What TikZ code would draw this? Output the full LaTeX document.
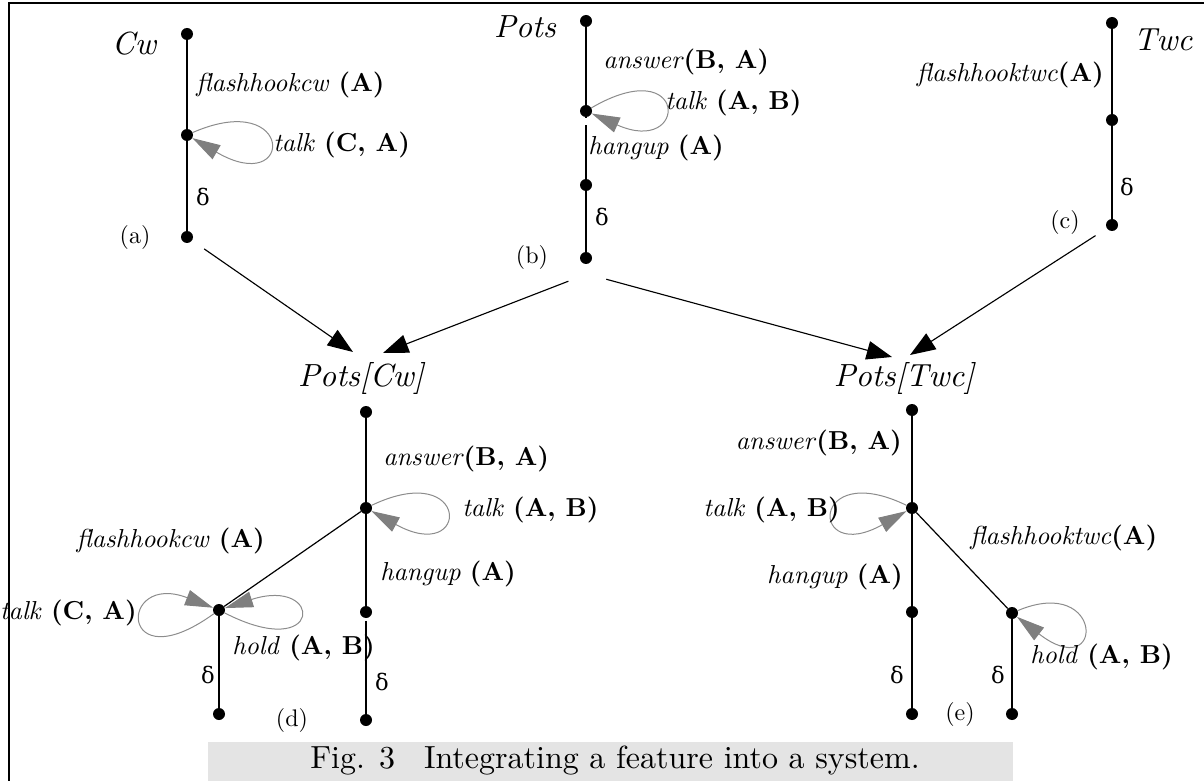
\documentclass[tikz,border=0pt]{standalone}
\usepackage{fontspec}
\setmainfont{lmroman10-regular.otf}[ItalicFont=lmroman10-italic.otf, BoldFont=lmroman10-bold.otf, BoldItalicFont=lmroman10-bolditalic.otf]
\newfontfamily\grk{DejaVu Serif}
\usetikzlibrary{arrows.meta}
\newcommand{\bp}[1]{\textup{\bfseries #1}}
\definecolor{lgray}{HTML}{8C8C8C}
\definecolor{agray}{HTML}{7F7F7F}
\definecolor{capbg}{HTML}{E4E4E4}
\begin{document}
\begin{tikzpicture}[x=0.75pt,y=-0.75pt,
 dot/.style={circle,fill=black,inner sep=0pt,minimum size=9pt},
 trunk/.style={line width=1.9pt},
 branch/.style={line width=0.9pt},
 lbl/.style={font=\fontsize{19.5}{22}\selectfont\itshape,inner sep=0pt},
 ttl/.style={font=\fontsize{24}{27}\selectfont\itshape,inner sep=0pt},
 tag/.style={font=\fontsize{18}{20}\selectfont,inner sep=0pt},
 dlt/.style={font=\grk\fontsize{17}{19}\selectfont,inner sep=0pt},
 captxt/.style={font=\fontsize{24}{28}\selectfont,inner sep=0pt},
 selfloop/.style={draw=lgray,line width=0.75pt,-{Triangle[length=21pt,width=12pt,color=agray]}},
 flow/.style={line width=0.85pt,-{Triangle[length=19pt,width=14pt]}},
]
\useasboundingbox (0,0) rectangle (1204,781);
% frame
\draw[line width=1.5pt] (9,781) -- (9,3) -- (1204,3);
% caption
\fill[capbg] (208,742) rectangle (1013,781);
\node[captxt] (caption) at (615,761) {Fig. 3\hspace{0.9em}Integrating a feature into a system.};

% ---------- (a) Cw ----------
\node[dot] (a1) at (187,34) {};
\node[dot] (a2) at (187,135) {};
\node[dot] (a3) at (187,237) {};
\draw[trunk] (a1) -- (a2);
\draw[trunk] (a2) -- (a3);
\draw[selfloop] (a2) .. controls +(108,-47) and +(108,63) .. (a2);
\node[ttl] (tCw) at (134,44) {Cw};
\node[lbl,anchor=west] (la1) at (196,85) {flashhookcw \bp{(A)}};
\node[lbl,anchor=west] (la2) at (273,145) {talk \bp{(C, A)}};
\node[dlt] (da) at (203,197) {δ};
\node[tag] (taga) at (135,238) {(a)};

% ---------- (b) Pots ----------
\node[dot] (b1) at (586,21) {};
\node[dot] (b2) at (586,111) {};
\node[dot] (b3) at (586,185) {};
\node[dot] (b4) at (586,258) {};
\draw[trunk] (b1) -- ([yshift=-5pt]b2.center);
\draw[trunk,shorten <=6pt] (b2) -- (b3);
\draw[trunk] (b3) -- (b4);
\draw[selfloop] (b2) .. controls +(103,-60) and +(103,46) .. (b2);
\node[ttl] (tPots) at (525,27) {Pots};
\node[lbl,anchor=west] (lb1) at (603,62) {answer\bp{(B, A)}};
\node[lbl,anchor=west] (lb2) at (665,103) {talk \bp{(A, B)}};
\node[lbl,anchor=west] (lb3) at (588,148) {hangup \bp{(A)}};
\node[dlt] (db) at (602,217) {δ};
\node[tag] (tagb) at (532,258) {(b)};

% ---------- (c) Twc ----------
\node[dot] (c1) at (1112,23) {};
\node[dot] (c2) at (1112,120) {};
\node[dot] (c3) at (1112,225) {};
\draw[trunk] (c1) -- (c2);
\draw[trunk] (c2) -- (c3);
\node[ttl] (tTwc) at (1163,40) {Twc};
\node[lbl,anchor=east] (lc1) at (1104,75) {flashhooktwc\bp{(A)}};
\node[dlt] (dc) at (1127,187) {δ};
\node[tag] (tagc) at (1065,223) {(c)};

% ---------- titles of results ----------
\node[ttl] (tPC) at (361,378) {Pots[Cw]};
\node[ttl] (tPT) at (904,378) {Pots[Twc]};
\coordinate (bsrc) at (587,274);
\coordinate (tipA) at (353,352);
\coordinate (tipB) at (383,353);
\coordinate (tipC) at (892,357);
\coordinate (tipD) at (910,355);
\draw[flow,shorten <=11pt] (a3) -- (tipA);
\draw[flow,shorten <=15pt] (bsrc) -- (tipB);
\draw[flow,shorten <=15pt] (bsrc) -- (tipC);
\draw[flow,shorten <=10pt] (c3) -- (tipD);

% ---------- (d) Pots[Cw] ----------
\node[dot] (d1) at (366,412) {};
\node[dot] (d2) at (366,508) {};
\node[dot] (d3) at (366,612) {};
\node[dot] (d4) at (366,720) {};
\node[dot] (dl1) at (219,610) {};
\node[dot] (dl2) at (219,714) {};
\draw[trunk] (d1) -- (d2);
\draw[trunk] (d2) -- (d3);
\draw[trunk,shorten <=2pt] (d3) -- (d4);
\draw[branch] (d2) -- (dl1);
\draw[trunk] (dl1) -- (dl2);
\draw[selfloop] (d2) .. controls +(105,-50) and +(105,58) .. (d2);
\draw[selfloop] (dl1) .. controls +(-101,73) and +(-101,-39) .. (dl1);
\draw[selfloop] (dl1) .. controls +(105,54) and +(105,-34) .. (dl1);
\node[lbl,anchor=west] (ld1) at (383,459) {answer\bp{(B, A)}};
\node[lbl,anchor=west] (ld2) at (462,510) {talk \bp{(A, B)}};
\node[lbl,anchor=east] (ld3) at (265,541) {flashhookcw \bp{(A)}};
\node[lbl,anchor=west] (ld4) at (380,574) {hangup \bp{(A)}};
\node[lbl,anchor=east] (ld5) at (137,613) {talk \bp{(C, A)}};
\node[lbl,anchor=west] (ld6) at (232,648) {hold \bp{(A, B)}};
\node[dlt] (dd1) at (208,675) {δ};
\node[dlt] (dd2) at (382,682) {δ};
\node[tag] (tagd) at (292,720) {(d)};

% ---------- (e) Pots[Twc] ----------
\node[dot] (e1) at (912,410) {};
\node[dot] (e2) at (912,508) {};
\node[dot] (e3) at (912,612) {};
\node[dot] (e4) at (912,714) {};
\node[dot] (er1) at (1012,613) {};
\node[dot] (er2) at (1012,714) {};
\draw[trunk] (e1) -- (e2);
\draw[trunk] (e2) -- (e3);
\draw[trunk] (e3) -- (e4);
\draw[branch] (e2) -- (er1);
\draw[trunk] (er1) -- (er2);
\draw[selfloop] (e2) .. controls +(-103,-50) and +(-103,58) .. (e2);
\draw[selfloop] (er1) .. controls +(93,-39) and +(93,72) .. (er1);
\node[lbl,anchor=east] (le1) at (902,443) {answer\bp{(B, A)}};
\node[lbl,anchor=east] (le2) at (840,510) {talk \bp{(A, B)}};
\node[lbl,anchor=west] (le3) at (970,538) {flashhooktwc\bp{(A)}};
\node[lbl,anchor=east] (le4) at (903,577) {hangup \bp{(A)}};
\node[lbl,anchor=west] (le5) at (1030,657) {hold \bp{(A, B)}};
\node[dlt] (de1) at (897,675) {δ};
\node[dlt] (de2) at (998,675) {δ};
\node[tag] (tage) at (960,714) {(e)};
\end{tikzpicture}
\end{document}
